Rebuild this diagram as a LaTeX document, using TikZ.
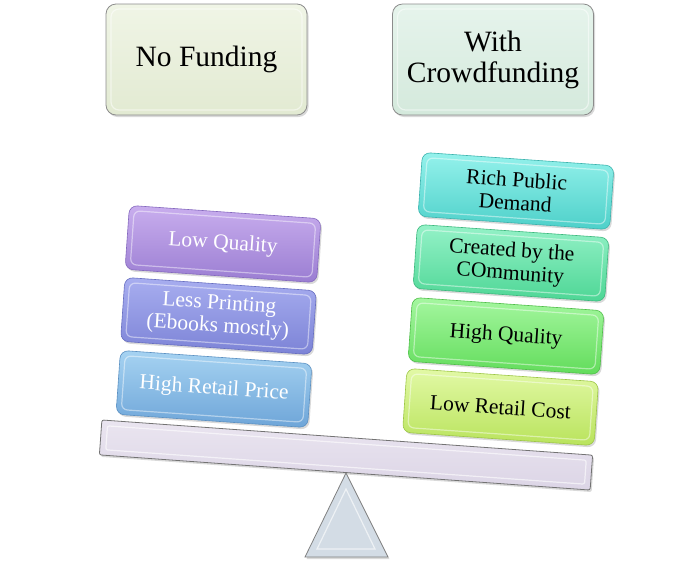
\documentclass[tikz,border=0pt]{standalone}
\usepackage{fontspec}
\setmainfont{Liberation Serif}
\usetikzlibrary{shadows}
\definecolor{nfA}{HTML}{F0F5E6}\definecolor{nfB}{HTML}{E2EAD2}
\definecolor{wcA}{HTML}{E6F4EC}\definecolor{wcB}{HTML}{D4E9DC}
\definecolor{lqA}{HTML}{C9AEEE}\definecolor{lqB}{HTML}{9A7DD2}\definecolor{lqD}{HTML}{8468BE}
\definecolor{lpA}{HTML}{A8AEF0}\definecolor{lpB}{HTML}{7C83D6}\definecolor{lpD}{HTML}{666DC0}
\definecolor{hrA}{HTML}{A6D3F2}\definecolor{hrB}{HTML}{6EA5D8}\definecolor{hrD}{HTML}{5A90C2}
\definecolor{rpA}{HTML}{95F2EC}\definecolor{rpB}{HTML}{4DD0C9}\definecolor{rpD}{HTML}{3BB3AD}
\definecolor{ccA}{HTML}{95F2C8}\definecolor{ccB}{HTML}{4DD695}\definecolor{ccD}{HTML}{3BB87D}
\definecolor{hqA}{HTML}{A5F7A0}\definecolor{hqB}{HTML}{62DC5B}\definecolor{hqD}{HTML}{4EBE48}
\definecolor{lrA}{HTML}{E2F9A6}\definecolor{lrB}{HTML}{B9E35C}\definecolor{lrD}{HTML}{9CC645}
\definecolor{beamA}{HTML}{EAE5F0}\definecolor{beamB}{HTML}{DCD5E6}
\definecolor{triA}{HTML}{E6ECF2}\definecolor{triB}{HTML}{D3DCE5}
\begin{document}
\begin{tikzpicture}[x=1pt,y=1pt,
  shad/.style={drop shadow={opacity=0.3,shadow xshift=1.5pt,shadow yshift=-2pt}},
  tbox/.style={rounded corners=10pt, minimum width=201pt, minimum height=111pt,
    draw=black!45, line width=0.8pt, font=\fontsize{29.5}{31}\selectfont,
    align=center, text=black, inner sep=0pt, shad},
  sbox/.style={rotate=-4, rounded corners=8pt, minimum width=192pt, minimum height=64pt,
    line width=0.6pt, font=\fontsize{21.5}{23}\selectfont, align=center,
    inner sep=0pt, shad},
  hl/.style={rotate=-4, rounded corners=6pt, draw=white, line width=1.2pt,
    opacity=0.45, minimum width=182pt, minimum height=54pt, inner sep=0pt},
  thl/.style={rounded corners=8pt, draw=white, line width=1.2pt,
    opacity=0.5, minimum width=191pt, minimum height=101pt, inner sep=0pt}]
\useasboundingbox (0,0) rectangle (700,-566);

% top boxes
\node[tbox, top color=nfA, bottom color=nfB] (nf) at (206.5,-59.5) {No Funding};
\node[thl] (nfh) at (nf.center) {};
\node[tbox, top color=wcA, bottom color=wcB] (wc) at (493,-59.5) {With\\Crowdfunding};
\node[thl] (wch) at (wc.center) {};

% triangle
\draw[fill=triB, draw=black!50, line width=0.8pt, shad] (346,-473) -- (305,-557) -- (388,-557) -- cycle;
\draw[white, opacity=0.6, line width=1.2pt] (346,-489) -- (317,-549) -- (375,-549) -- cycle;

% beam
\node[rotate=-4.1, minimum width=492pt, minimum height=35pt, inner sep=0pt,
  top color=beamA, bottom color=beamB, draw=black!55, line width=0.8pt,
  rounded corners=2pt, shad] (beam) at (346,-455) {};
\node[rotate=-4.1, minimum width=480pt, minimum height=24pt, inner sep=0pt,
  draw=white, opacity=0.6, line width=1.2pt, rounded corners=2pt] (beamh) at (beam.center) {};

% left stack
\node[sbox, top color=hrA, bottom color=hrB, draw=hrD, text=white] (hr) at (214,-389) {High Retail Price};
\node[hl] (hrh) at (hr.center) {};
\node[sbox, top color=lpA, bottom color=lpB, draw=lpD, text=white] (lp) at (218.5,-316) {Less Printing\\(Ebooks mostly)};
\node[hl] (lph) at (lp.center) {};
\node[sbox, top color=lqA, bottom color=lqB, draw=lqD, text=white] (lq) at (223,-244) {Low Quality};
\node[hl] (lqh) at (lq.center) {};

% right stack
\node[sbox, top color=lrA, bottom color=lrB, draw=lrD, text=black] (lr) at (500.5,-407) {Low Retail Cost};
\node[hl] (lrh) at (lr.center) {};
\node[sbox, top color=hqA, bottom color=hqB, draw=hqD, text=black] (hq) at (506,-336) {High Quality};
\node[hl] (hqh) at (hq.center) {};
\node[sbox, top color=ccA, bottom color=ccB, draw=ccD, text=black] (cc) at (511,-263) {Created by the\\COmmunity};
\node[hl] (cch) at (cc.center) {};
\node[sbox, top color=rpA, bottom color=rpB, draw=rpD, text=black] (rp) at (516,-191) {Rich Public\\Demand};
\node[hl] (rph) at (rp.center) {};
\end{tikzpicture}
\end{document}
